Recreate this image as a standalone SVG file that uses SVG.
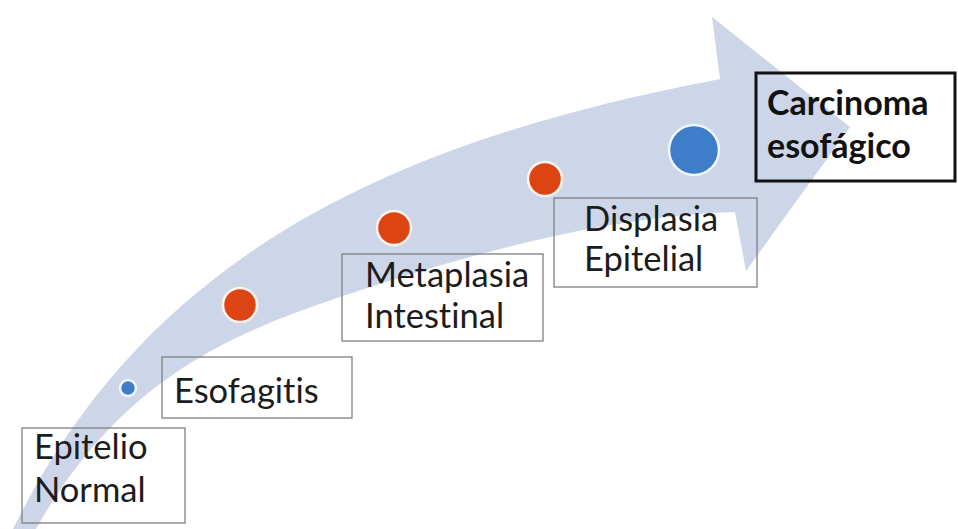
<svg xmlns="http://www.w3.org/2000/svg" width="958" height="529" viewBox="0 0 958 529">
  <style>
    .box { fill: none; stroke: #7f7f7f; stroke-width: 1.3; }
    .box-strong { fill: none; stroke: #111111; stroke-width: 3; }
    .lbl { font-family: Lato, "Liberation Sans", sans-serif; font-size: 34.5px; fill: #1c1c1c; font-variant-ligatures: none; }
    .lbl-b { font-family: Lato, "Liberation Sans", sans-serif; font-size: 34px; font-weight: bold; fill: #111111; font-variant-ligatures: none; }
    .red { fill: #dd4414; stroke: #fff3ea; stroke-width: 2.5; }
    .blue { fill: #3e7dc8; stroke: #eef7fc; stroke-width: 2.5; }
  </style>
  <rect width="958" height="529" fill="#ffffff"/>
  <g id="connectors">
    <path id="progress-arrow" fill="#cdd6e8" d="M 13,529 C 150,250 400,140 720,79 L 712,17 L 850,127 L 746,271 L 735,212 C 600,216 450,260 340,297 C 230,334 120,380 36,529 Z"/>
  </g>
  <g id="node-epitelio">
    <rect class="box" x="22" y="428" width="163" height="95"/>
    <text class="lbl" x="34" y="459">Epitelio</text>
    <text class="lbl" x="34" y="502">Normal</text>
  </g>
  <g id="dot-1"><circle class="blue" cx="128" cy="388" r="8"/></g>
  <g id="node-esofagitis">
    <rect class="box" x="162" y="357" width="190" height="61"/>
    <text class="lbl" x="174" y="403">Esofagitis</text>
  </g>
  <g id="dot-2"><circle class="red" cx="240" cy="305" r="17"/></g>
  <g id="node-metaplasia">
    <rect class="box" x="342" y="254" width="201" height="87"/>
    <text class="lbl" x="365" y="287">Metaplasia</text>
    <text class="lbl" x="365" y="328">Intestinal</text>
  </g>
  <g id="dot-3"><circle class="red" cx="394" cy="228" r="17"/></g>
  <g id="node-displasia">
    <rect class="box" x="554" y="198" width="203" height="89"/>
    <text class="lbl" x="584" y="231">Displasia</text>
    <text class="lbl" x="584" y="271">Epitelial</text>
  </g>
  <g id="dot-4"><circle class="red" cx="545" cy="179" r="17"/></g>
  <g id="dot-5"><circle class="blue" cx="694" cy="150" r="25"/></g>
  <g id="node-carcinoma">
    <rect class="box-strong" x="756" y="73" width="199" height="108"/>
    <text class="lbl-b" x="767" y="115">Carcinoma</text>
    <text class="lbl-b" x="767" y="158">esofágico</text>
  </g>
</svg>
